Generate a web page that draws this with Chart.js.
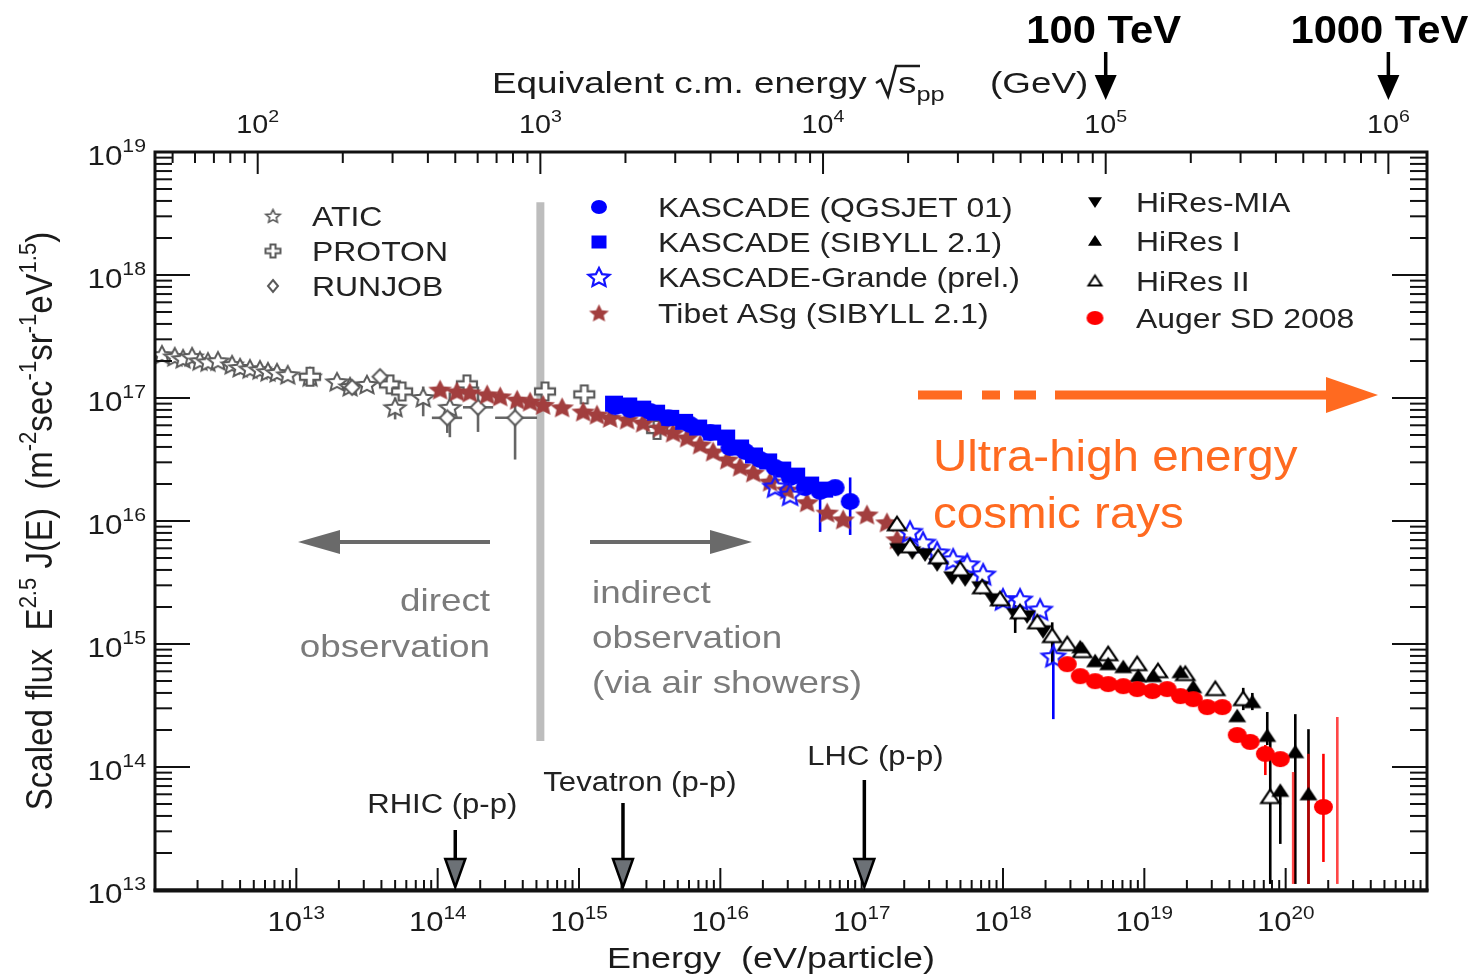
<!DOCTYPE html>
<html>
<head>
<meta charset="utf-8">
<script src="https://cdn.jsdelivr.net/npm/chart.js@4.4.1/dist/chart.umd.min.js"></script>
<style>
  html, body { margin: 0; padding: 0; background: #fff; overflow: hidden; }
  canvas { display: block; }
</style>
</head>
<body>
<canvas id="spectrum" width="1478" height="975"></canvas>
<script>
// ---- Cosmic-ray spectrum: energy (eV/particle) vs scaled flux E^2.5 J(E) ----
const aticE = [1.12e12, 1.38e12, 1.58e12, 1.83e12, 2.08e12, 2.37e12, 2.79e12, 3.51e12, 4.0e12, 4.7e12, 5.53e12, 6.3e12, 7.3e12, 8.7e12, 1.25e13, 1.94e13, 2.4e13, 3.16e13, 5.0e13, 7.9e13, 1.22e14];
const aticF = [2.25e17, 2.17e17, 2.09e17, 2.17e17, 2.01e17, 1.97e17, 2.01e17, 1.87e17, 1.77e17, 1.73e17, 1.70e17, 1.64e17, 1.61e17, 1.55e17, 1.49e17, 1.36e17, 1.24e17, 1.29e17, 8.4e16, 1.01e17, 8.4e16];
const aticErr = [[18, 6.7e16, 1.01e17], [19, 7.1e16, 1.24e17], [20, 4.8e16, 1.11e17]];

const protonE = [1.25e13, 4.6e13, 5.6e13, 1.61e14, 5.75e14, 1.09e15, 3.57e15];
const protonF = [1.49e17, 1.29e17, 1.13e17, 1.29e17, 1.13e17, 1.07e17, 5.5e16];

const runjobE = [2.48e13, 3.91e13, 1.17e14, 1.93e14, 3.53e14];
const runjobF = [1.22e17, 1.49e17, 6.9e16, 8.4e16, 6.9e16];
const runjobErr = [[2, 5.2e16, 7.6e16], [3, 5.3e16, 1.24e17], [4, 3.16e16, 8.8e16]];
const runjobErrE = [[2, 9.1e13, 1.49e14], [3, 1.51e14, 2.47e14], [4, 2.55e14, 5.05e14]];

const tibetE = [1.04e14, 1.37e14, 1.69e14, 2.24e14, 2.77e14, 3.65e14, 4.51e14, 5.57e14, 7.59e14, 1.07e15, 1.34e15, 1.66e15, 2.19e15, 2.84e15, 3.75e15, 4.63e15, 5.82e15, 7.19e15, 8.89e15, 1.12e16, 1.38e16, 1.71e16, 2.25e16, 2.97e16, 4.11e16, 5.70e16, 7.40e16, 1.09e17, 1.51e17, 1.78e17];
const tibetF = [1.17e17, 1.13e17, 1.11e17, 1.07e17, 1.03e17, 9.7e16, 9.35e16, 8.8e16, 8.4e16, 7.76e16, 7.33e16, 6.9e16, 6.68e16, 6.31e16, 5.75e16, 5.24e16, 4.77e16, 4.19e16, 3.67e16, 3.16e16, 2.77e16, 2.48e16, 2.09e16, 1.80e16, 1.42e16, 1.17e16, 1.03e16, 1.13e16, 9.75e15, 7.1e15];

const kasSibE = [1.77e15, 2.23e15, 2.80e15, 3.51e15, 4.42e15, 5.54e15, 6.97e15, 8.75e15, 1.10e16, 1.38e16, 1.73e16, 2.18e16, 2.74e16, 3.44e16, 4.32e16, 5.43e16];
const kasSibF = [9.0e16, 8.7e16, 8.2e16, 7.6e16, 6.9e16, 6.4e16, 5.75e16, 5.24e16, 4.77e16, 3.96e16, 3.41e16, 3.05e16, 2.62e16, 2.34e16, 1.98e16, 1.80e16];

const kasQgsE = [1.80e15, 2.30e15, 3.18e15, 4.27e15, 6.11e15, 8.47e15, 1.17e16, 1.50e16, 1.91e16, 2.44e16, 3.12e16, 3.98e16, 5.08e16, 6.49e16, 8.29e16];
const kasQgsF = [8.5e16, 8.05e16, 7.76e16, 6.9e16, 6.08e16, 5.24e16, 3.96e16, 3.67e16, 3.16e16, 2.72e16, 2.26e16, 1.87e16, 1.74e16, 1.87e16, 1.44e16];
const kasQgsErr = [[10, 1.6e16, 2.6e16], [12, 8.15e15, 1.98e16], [14, 7.7e15, 2.26e16]];

const grandeE = [2.44e16, 3.12e16, 2.20e17, 2.72e17, 3.42e17, 4.44e17, 5.58e17, 7.24e17, 1.00e18, 1.32e18, 1.83e18, 2.27e18];
const grandeF = [1.91e16, 1.64e16, 8.2e15, 6.7e15, 5.56e15, 4.88e15, 4.45e15, 3.69e15, 2.31e15, 2.31e15, 1.91e15, 7.96e14];
const grandeErr = [[11, 2.45e14, 1.09e15]];

const miaE = [1.81e17, 2.28e17, 2.81e17, 3.42e17, 4.37e17, 5.40e17, 6.90e17, 8.53e17, 1.22e18, 1.48e18, 1.92e18];
const miaF = [5.9e15, 5.56e15, 5.36e15, 4.45e15, 3.48e15, 3.36e15, 2.89e15, 2.31e15, 1.75e15, 1.68e15, 1.27e15];
const miaErr = [[8, 1.23e15, 2.07e15]];

const hires1E = [3.52e18, 4.49e18, 5.55e18, 7.10e18, 9.06e18, 1.16e19, 1.80e19, 2.22e19, 4.54e19, 5.81e19, 7.41e19, 9.16e19, 1.17e20, 1.45e20];
const hires1F = [9.4e14, 7.25e14, 6.86e14, 6.49e14, 5.48e14, 5.48e14, 5.9e14, 4.46e14, 2.59e14, 3.37e14, 1.79e14, 6.4e13, 1.32e14, 6.0e13];
const hires1Err = [[9, 2.9e14, 4.0e14], [10, 1.51e14, 2.8e14], [11, 2.37e13, 7.0e13], [12, 1.12e13, 2.69e14], [13, 1.12e13, 2.03e14]];

const hires2E = [1.78e17, 2.20e17, 3.48e17, 4.98e17, 7.13e17, 9.55e17, 1.32e18, 1.75e18, 2.23e18, 2.85e18, 3.64e18, 5.55e18, 8.91e18, 1.25e19, 1.95e19, 3.18e19, 5.01e19, 7.78e19];
const hires2F = [9.4e15, 6.22e15, 5.07e15, 4.05e15, 2.89e15, 2.31e15, 1.81e15, 1.50e15, 1.16e15, 9.96e14, 8.75e14, 8.26e14, 6.86e14, 6.01e14, 5.69e14, 4.30e14, 3.56e14, 5.70e13];
const hires2Err = [[8, 7.0e14, 1.5e15], [16, 2.9e14, 4.4e14], [17, 1.12e13, 1.69e14]];

const augerE = [2.85e18, 3.52e18, 4.49e18, 5.55e18, 7.10e18, 8.91e18, 1.14e19, 1.45e19, 1.80e19, 2.22e19, 2.79e19, 3.56e19, 4.54e19, 5.61e19, 7.18e19, 9.16e19, 1.85e20];
const augerF = [6.86e14, 5.48e14, 4.99e14, 4.72e14, 4.54e14, 4.30e14, 4.14e14, 4.30e14, 3.77e14, 3.56e14, 3.07e14, 3.07e14, 1.82e14, 1.60e14, 1.28e14, 1.16e14, 4.73e13];
const augerErr = [[12, 1.65e14, 2.0e14], [13, 1.4e14, 1.8e14], [14, 8.6e13, 1.51e14], [15, 1.0e14, 1.3e14], [16, 1.69e13, 1.28e14]];
// Auger bins drawn only as bars (no marker in range)
const augerBarE = [1.13e20, 1.45e20, 2.32e20];
const augerBarLo = [1.12e13, 1.12e13, 1.12e13];
const augerBarHi = [9.1e13, 1.28e14, 2.55e14];

// axis decades
const energyDecades = [13, 14, 15, 16, 17, 18, 19, 20];
const fluxDecades = [13, 14, 15, 16, 17, 18, 19];
const rootSDecades = [2, 3, 4, 5, 6];

// collider reference points, sqrt(s) in GeV
const colliderNames = ['RHIC (p-p)', 'Tevatron (p-p)', 'LHC (p-p)'];
const colliderRootS = [500, 1960, 14000];
const tevNames = ['100 TeV', '1000 TeV'];
const tevRootS = [1e5, 1e6];
const dividerRootS = 1000;           // sqrt(s) = 1 TeV separating direct / indirect
const dividerFlux = [1.63e14, 3.9e18];

const PROTON_MASS = 0.938272; // GeV
const rootS = eV => Math.sqrt(2 * PROTON_MASS * eV / 1e9);
const labEnergy = gev => gev * gev / (2 * PROTON_MASS) * 1e9;

const FONT = '"Liberation Sans", Arial, Helvetica, sans-serif';
const ORANGE = '#ff6a20';

// ---- marker glyphs ----
const SHAPES = {
  star: Array.from({ length: 10 }, (_, k) => {
    const r = k % 2 ? 0.47 : 1, a = -Math.PI / 2 + k * Math.PI / 5;
    return [r * Math.cos(a), r * Math.sin(a) + 0.09];
  }),
  plus: [[-.34, -1], [.34, -1], [.34, -.34], [1, -.34], [1, .34], [.34, .34], [.34, 1], [-.34, 1], [-.34, .34], [-1, .34], [-1, -.34], [-.34, -.34]],
  diamond: [[0, -1], [1, 0], [0, 1], [-1, 0]],
  square: [[-1, -1], [1, -1], [1, 1], [-1, 1]],
  triUp: [[0, -1], [1, .8], [-1, .8]],
  triDown: [[0, 1], [1, -.8], [-1, -.8]]
};
function glyph(shape, w, h, fill, stroke, lw) {
  lw = lw || 0;
  const pad = Math.ceil(lw) + 1;
  const c = document.createElement('canvas');
  c.width = Math.round(w + 2 * pad); c.height = Math.round(h + 2 * pad);
  const g = c.getContext('2d');
  const cx = c.width / 2, cy = c.height / 2;
  g.beginPath();
  if (shape === 'circle') g.ellipse(cx, cy, w / 2, h / 2, 0, 0, Math.PI * 2);
  else SHAPES[shape].forEach(([u, v], k) => k ? g.lineTo(cx + u * w / 2, cy + v * h / 2) : g.moveTo(cx + u * w / 2, cy + v * h / 2));
  g.closePath();
  if (fill) { g.fillStyle = fill; g.fill(); }
  if (stroke && lw) { g.strokeStyle = stroke; g.lineWidth = lw; g.lineJoin = 'miter'; g.stroke(); }
  return c;
}

const GREY = '#5a5a5a', BLUE = '#0000ff', BROWN = '#a23e3e', RED = '#ff0000', BLACK = '#000';

function pts(E, F) { return E.map((e, i) => ({ x: e, y: F[i] })); }
function bars(n, list) { const a = new Array(n).fill(null); (list || []).forEach(([i, lo, hi]) => { a[i] = [lo, hi]; }); return a; }

function series(label, E, F, style, legendStyle, errColor, errF, errE) {
  return {
    label, data: pts(E, F), pointStyle: style, pointRadius: 5, pointHoverRadius: 5,
    legendGlyph: legendStyle, errColor, errF: bars(E.length, errF), errE: bars(E.length, errE)
  };
}

// listed top-most first
const datasets = [
  series('Auger SD 2008', augerE, augerF, glyph('circle', 19, 16, RED), glyph('circle', 17, 14, RED), RED, augerErr),
  { label: 'Auger SD 2008 bins', data: pts(augerBarE, augerBarHi), pointRadius: 0, legendGlyph: null,
    errColor: 'rgba(255,0,0,0.72)', errF: augerBarE.map((_, i) => [augerBarLo[i], augerBarHi[i]]), errE: [] },
  series('HiRes I', hires1E, hires1F, glyph('triUp', 18, 15, BLACK), glyph('triUp', 14, 12, BLACK), BLACK, hires1Err),
  series('HiRes II', hires2E, hires2F, glyph('triUp', 18, 15, '#fff', BLACK, 2.2), glyph('triUp', 13, 11, '#fff', BLACK, 2), BLACK, hires2Err),
  series('HiRes-MIA', miaE, miaF, glyph('triDown', 18, 15, BLACK), glyph('triDown', 14, 12, BLACK), BLACK, miaErr),
  series('KASCADE-Grande (prel.)', grandeE, grandeF, glyph('star', 24, 22, null, '#1414ff', 2.2), glyph('star', 22, 20, null, '#1414ff', 2.2), BLUE, grandeErr),
  series('KASCADE (SIBYLL 2.1)', kasSibE, kasSibF, glyph('square', 18, 16, BLUE), glyph('square', 15, 13, BLUE), BLUE),
  series('KASCADE (QGSJET 01)', kasQgsE, kasQgsF, glyph('circle', 19, 17, BLUE), glyph('circle', 16, 14, BLUE), BLUE, kasQgsErr),
  series('Tibet ASg (SIBYLL 2.1)', tibetE, tibetF, glyph('star', 25, 22, BROWN), glyph('star', 21, 19, BROWN), BROWN),
  series('RUNJOB', runjobE, runjobF, glyph('diamond', 15, 15, '#fff', GREY, 2), glyph('diamond', 10, 12, '#fff', GREY, 2), '#666', runjobErr, runjobErrE),
  series('PROTON', protonE, protonF, glyph('plus', 20, 18, '#fff', GREY, 2.2), glyph('plus', 15, 13, '#fff', GREY, 2), '#666'),
  series('ATIC', aticE, aticF, glyph('star', 22, 19, '#fff', GREY, 2), glyph('star', 15, 14, '#fff', GREY, 1.6), '#666', aticErr)
];

// ---- drawing helpers ----
function seg(ctx, x1, y1, x2, y2) { ctx.beginPath(); ctx.moveTo(x1, y1); ctx.lineTo(x2, y2); ctx.stroke(); }

// text runs (with super/subscripts); sx widens glyphs across the text direction when rotated
function runs(ctx, list, x, y, o) {
  o = o || {};
  const sx = o.sx == null ? 1.15 : o.sx;
  ctx.save();
  ctx.fillStyle = o.color || '#1b1b1b';
  ctx.textBaseline = 'alphabetic'; ctx.textAlign = 'left';
  const fontOf = r => `${r.bold ? 'bold ' : ''}${r.size}px ${FONT}`;
  let total = 0;
  const ws = list.map(r => { ctx.font = fontOf(r); const w = ctx.measureText(r.t).width; total += w; return w; });
  ctx.translate(x, y);
  if (o.rot) { ctx.rotate(o.rot); ctx.scale(1, sx); } else ctx.scale(sx, 1);
  let cx = o.align === 'center' ? -total / 2 : o.align === 'right' ? -total : 0;
  list.forEach((r, i) => { ctx.font = fontOf(r); ctx.fillText(r.t, cx, r.dy || 0); cx += ws[i]; });
  ctx.restore();
}
function power(ctx, d, x, y, size, align, sx) {
  runs(ctx, [{ t: '10', size }, { t: String(d), size: Math.round(size * 0.68), dy: -Math.round(size * 0.45) }], x, y, { align, sx });
}
function arrowHead(ctx, tipX, tipY, dirX, dirY, len, half, fill, stroke, lw) {
  const bx = tipX - dirX * len, by = tipY - dirY * len;
  ctx.beginPath();
  ctx.moveTo(tipX, tipY);
  ctx.lineTo(bx - dirY * half, by + dirX * half);
  ctx.lineTo(bx + dirY * half, by - dirX * half);
  ctx.closePath();
  ctx.fillStyle = fill; ctx.fill();
  if (stroke) { ctx.strokeStyle = stroke; ctx.lineWidth = lw; ctx.stroke(); }
}

function drawFrame(chart) {
  const { ctx, chartArea: a, scales: { x, y, x2 } } = chart;
  ctx.save();
  ctx.strokeStyle = '#111'; ctx.lineWidth = 2;
  for (let d = 12; d <= 21; d++) for (let m = 1; m < 10; m++) {
    const v = m * Math.pow(10, d);
    if (v < x.min * 0.999 || v > x.max * 1.001) continue;
    const px = x.getPixelForValue(v);
    seg(ctx, px, a.bottom, px, a.bottom - (m === 1 ? 22 : 10));
  }
  for (let d = 1; d <= 6; d++) for (let m = 1; m < 10; m++) {
    const v = m * Math.pow(10, d);
    if (v < x2.min || v > x2.max) continue;
    const px = x2.getPixelForValue(v);
    seg(ctx, px, a.top, px, a.top + (m === 1 ? 22 : 11));
  }
  for (let d = 13; d <= 19; d++) for (let m = 1; m < 10; m++) {
    const v = m * Math.pow(10, d);
    if (v > y.max * 1.001) continue;
    const py = y.getPixelForValue(v);
    const len = m === 1 ? 35 : 17;
    seg(ctx, a.left, py, a.left + len, py);
    seg(ctx, a.right, py, a.right - len, py);
  }
  ctx.lineWidth = 3;
  ctx.strokeRect(a.left, a.top, a.right - a.left, a.bottom - a.top);
  ctx.lineWidth = 4;
  seg(ctx, a.left - 1.5, a.bottom + 0.5, a.right + 1.5, a.bottom + 0.5);
  ctx.restore();

  // tick labels
  energyDecades.forEach(d => power(ctx, d, x.getPixelForValue(Math.pow(10, d)), 931, 27, 'center', 1.15));
  rootSDecades.forEach(d => power(ctx, d, x2.getPixelForValue(Math.pow(10, d)), 133, 25, 'center', 1.15));
  fluxDecades.forEach(d => power(ctx, d, 146, y.getPixelForValue(Math.pow(10, d)) + 13, 28, 'right', 1.12));

  // axis titles
  runs(ctx, [{ t: 'Energy  (eV/particle)', size: 29 }], 771, 968, { align: 'center', sx: 1.24 });
  runs(ctx, [{ t: 'Equivalent c.m. energy', size: 29 }], 492, 93, { sx: 1.27 });
  // radical sign over s
  ctx.save();
  ctx.strokeStyle = '#1b1b1b'; ctx.lineWidth = 2.6; ctx.lineJoin = 'miter';
  ctx.beginPath();
  ctx.moveTo(876, 83); ctx.lineTo(881, 80); ctx.lineTo(888, 96); ctx.lineTo(896, 66); ctx.lineTo(920, 66);
  ctx.stroke();
  ctx.restore();
  runs(ctx, [{ t: 's', size: 29 }, { t: 'pp', size: 20, dy: 8 }], 898, 93, { sx: 1.27 });
  runs(ctx, [{ t: '(GeV)', size: 29 }], 990, 93, { sx: 1.27 });

  runs(ctx, [
    { t: 'Scaled flux  E', size: 33 }, { t: '2.5', size: 22, dy: -14 },
    { t: ' J(E)  (m', size: 33 }, { t: '-2', size: 22, dy: -14 },
    { t: 'sec', size: 33 }, { t: '-1', size: 22, dy: -14 },
    { t: 'sr', size: 33 }, { t: '-1', size: 22, dy: -14 },
    { t: 'eV', size: 33 }, { t: '1.5', size: 22, dy: -14 }, { t: ')', size: 33 }
  ], 52, 521, { align: 'center', rot: -Math.PI / 2, sx: 1.12 });
}

function drawLegends(chart) {
  const { ctx } = chart;
  const find = l => chart.data.datasets.find(d => d.label === l);
  const cols = [
    { mx: 273, tx: 312, rows: [['ATIC', 216], ['PROTON', 251], ['RUNJOB', 286]] },
    { mx: 599, tx: 658, rows: [['KASCADE (QGSJET 01)', 207], ['KASCADE (SIBYLL 2.1)', 242], ['KASCADE-Grande (prel.)', 277], ['Tibet ASg (SIBYLL 2.1)', 313]] },
    { mx: 1095, tx: 1136, rows: [['HiRes-MIA', 202], ['HiRes I', 241], ['HiRes II', 281], ['Auger SD 2008', 318]] }
  ];
  cols.forEach(col => col.rows.forEach(([label, cy]) => {
    const g = find(label).legendGlyph;
    ctx.drawImage(g, col.mx - g.width / 2, cy - g.height / 2);
    runs(ctx, [{ t: label, size: 28 }], col.tx, cy + 10, { sx: 1.14, color: '#222' });
  }));
}

function drawNotes(chart) {
  const { ctx, chartArea: a, scales: { x, x2 } } = chart;
  const grey = '#6a6a6a';
  ctx.save();
  ctx.strokeStyle = grey; ctx.lineWidth = 4;
  seg(ctx, 490, 542, 330, 542);
  arrowHead(ctx, 298, 542, -1, 0, 42, 12, grey);
  seg(ctx, 590, 542, 720, 542);
  arrowHead(ctx, 752, 542, 1, 0, 42, 12, grey);
  ctx.restore();
  runs(ctx, [{ t: 'direct', size: 32 }], 490, 611, { align: 'right', color: '#7b7b7b' });
  runs(ctx, [{ t: 'observation', size: 32 }], 490, 657, { align: 'right', color: '#7b7b7b' });
  runs(ctx, [{ t: 'indirect', size: 32 }], 592, 603, { color: '#7b7b7b' });
  runs(ctx, [{ t: 'observation', size: 32 }], 592, 648, { color: '#7b7b7b' });
  runs(ctx, [{ t: '(via air showers)', size: 32 }], 592, 693, { color: '#7b7b7b' });

  // ultra-high energy arrow (dashed tail)
  ctx.save();
  ctx.strokeStyle = ORANGE; ctx.lineWidth = 9;
  [[918, 962], [982, 1000], [1014, 1036], [1055, 1332]].forEach(([s, e]) => seg(ctx, s, 395, e, 395));
  arrowHead(ctx, 1378, 395, 1, 0, 52, 18, ORANGE);
  ctx.restore();
  runs(ctx, [{ t: 'Ultra-high energy', size: 44 }], 933, 471, { sx: 1.08, color: ORANGE });
  runs(ctx, [{ t: 'cosmic rays', size: 44 }], 933, 528, { sx: 1.08, color: ORANGE });

  // collider energies on the energy axis
  const labelDx = [-13, 17, 11], tailY = [830, 803, 780], labelY = [813, 791, 765];
  colliderRootS.forEach((rs, i) => {
    const px = x.getPixelForValue(labEnergy(rs));
    ctx.save();
    ctx.strokeStyle = '#000'; ctx.lineWidth = 3.5;
    seg(ctx, px, tailY[i], px, a.bottom - 29);
    arrowHead(ctx, px, a.bottom - 3, 0, 1, 28, 10, '#6c7176', '#000', 2.5);
    ctx.restore();
    runs(ctx, [{ t: colliderNames[i], size: 27 }], px + labelDx[i], labelY[i], { align: 'center', color: '#222' });
  });

  // TeV marks on the c.m. energy axis
  const tevDx = [-2, -9];
  tevRootS.forEach((rs, i) => {
    const px = x2.getPixelForValue(rs);
    ctx.save();
    ctx.strokeStyle = '#000'; ctx.lineWidth = 3.5;
    seg(ctx, px, 52, px, 78);
    arrowHead(ctx, px, 100, 0, 1, 25, 11, '#000');
    ctx.restore();
    runs(ctx, [{ t: tevNames[i], size: 39, bold: true }], px + tevDx[i], 43, { align: 'center', sx: 1.07, color: '#000' });
  });
}

const decor = {
  id: 'spectrumDecor',
  beforeDraw(chart) {
    const { ctx, width, height } = chart;
    ctx.save(); ctx.fillStyle = '#fff'; ctx.fillRect(0, 0, width, height); ctx.restore();
  },
  beforeDatasetsDraw(chart) {
    const { ctx, chartArea: a, scales: { x, y, x2 } } = chart;
    // direct / indirect divider at sqrt(s) = 1 TeV
    ctx.save();
    ctx.strokeStyle = '#bdbdbd'; ctx.lineWidth = 8;
    const dx = x2.getPixelForValue(dividerRootS);
    seg(ctx, dx, y.getPixelForValue(dividerFlux[1]), dx, y.getPixelForValue(dividerFlux[0]));
    ctx.restore();
    // error bars
    ctx.save();
    ctx.beginPath(); ctx.rect(a.left, a.top, a.right - a.left, a.bottom - a.top); ctx.clip();
    chart.data.datasets.slice().reverse().forEach(ds => {
      ctx.strokeStyle = ds.errColor; ctx.lineWidth = 2.6;
      ds.data.forEach((p, i) => {
        const px = x.getPixelForValue(p.x), py = y.getPixelForValue(p.y);
        const ef = ds.errF && ds.errF[i];
        if (ef) seg(ctx, px, y.getPixelForValue(ef[0]), px, y.getPixelForValue(ef[1]));
        const ee = ds.errE && ds.errE[i];
        if (ee) seg(ctx, x.getPixelForValue(ee[0]), py, x.getPixelForValue(ee[1]), py);
      });
    });
    ctx.restore();
  },
  afterDatasetsDraw(chart) {
    drawFrame(chart);
    drawLegends(chart);
    drawNotes(chart);
  }
};

new Chart(document.getElementById('spectrum'), {
  type: 'scatter',
  data: { datasets },
  options: {
    responsive: false,
    animation: false,
    devicePixelRatio: 1,
    events: [],
    layout: { padding: { left: 155, right: 51, top: 152, bottom: 85 } },
    plugins: { legend: { display: false }, tooltip: { enabled: false } },
    scales: {
      x: { type: 'logarithmic', min: 1e12, max: 1e21, display: false },
      y: { type: 'logarithmic', min: 1e13, max: 1e19, display: false },
      x2: { type: 'logarithmic', axis: 'x', position: 'top', min: rootS(1e12), max: rootS(1e21), display: false }
    }
  },
  plugins: [decor]
});
</script>
</body>
</html>
